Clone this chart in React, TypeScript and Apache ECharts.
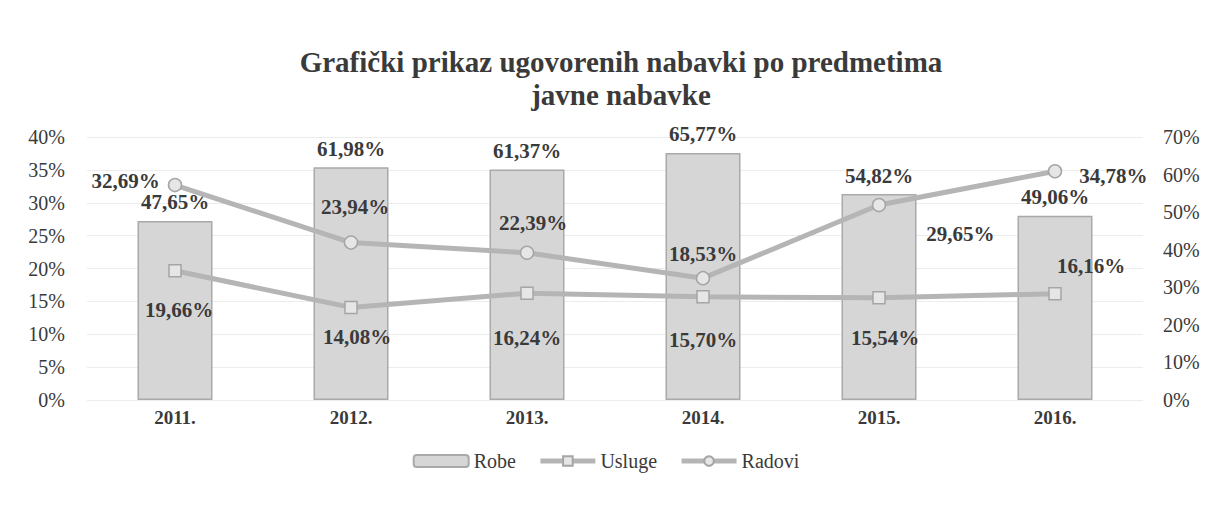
import React, { useEffect, useRef } from "react";
import * as echarts from "echarts";

const years = ["2011.", "2012.", "2013.", "2014.", "2015.", "2016."];
const robe = [47.65, 61.98, 61.37, 65.77, 54.82, 49.06];
const usluge = [19.66, 14.08, 16.24, 15.7, 15.54, 16.16];
const radovi = [32.69, 23.94, 22.39, 18.53, 29.65, 34.78];
const leftTicks = { min: 0, max: 40, interval: 5 };
const rightTicks = { min: 0, max: 70, interval: 10 };

// label placement styles (not data)
const uslugeLabelPos: any[] = [
  { position: "bottom", distance: 22, offset: [4, 0] },
  { position: "bottom", distance: 12, offset: [6, 0] },
  { position: "bottom", distance: 28, offset: [0, 0] },
  { position: "bottom", distance: 26, offset: [0, 0] },
  { position: "bottom", distance: 23, offset: [6, 0] },
  { position: "top", distance: 10, offset: [36, 0] },
];
const radoviLabelPos: any[] = [
  { position: "left", distance: 8, offset: [0, -4] },
  { position: "top", distance: 18, offset: [4, 0] },
  { position: "top", distance: 12, offset: [6, 0] },
  { position: "top", distance: 6, offset: [0, 0] },
  { position: "right", distance: 40, offset: [0, 29] },
  { position: "right", distance: 17, offset: [0, 5] },
];

const fmt = (v: number) => v.toFixed(2).replace(".", ",") + "%";
const FONT = "'Liberation Serif', 'DejaVu Serif', serif";
const TEXT = "#3a3a3a";

export default function App() {
  const ref = useRef<HTMLDivElement>(null);
  useEffect(() => {
    if (!ref.current) return;
    const chart = echarts.init(ref.current, undefined, { renderer: "svg" });
    const labelBase = {
      show: true,
      fontFamily: FONT,
      fontSize: 21,
      fontWeight: "bold",
      color: TEXT,
      formatter: (p: any) => fmt(p.value),
    };
    chart.setOption({
      animation: false,
      backgroundColor: "#ffffff",
      textStyle: { fontFamily: FONT },
      title: {
        text: "Grafički prikaz ugovorenih nabavki po predmetima\njavne nabavke",
        left: 616,
        top: 40,
        textAlign: "center",
        textStyle: {
          fontFamily: FONT,
          fontSize: 29,
          fontWeight: "bold",
          color: TEXT,
          lineHeight: 33,
        },
      },
      legend: {
        top: 446,
        left: "center",
        itemWidth: 55,
        itemHeight: 12,
        itemGap: 22,
        lineStyle: { width: 5, color: "#b5b5b5" },
        textStyle: { fontFamily: FONT, fontSize: 20, color: TEXT },
        data: ["Robe", "Usluge", "Radovi"],
      },
      grid: { left: 87, right: 69, top: 137, bottom: 117 },
      xAxis: {
        type: "category",
        data: years,
        axisLine: { show: false },
        axisTick: { show: false },
        axisLabel: {
          fontFamily: FONT,
          fontSize: 19,
          fontWeight: "bold",
          color: TEXT,
          margin: 8,
        },
      },
      yAxis: [
        {
          type: "value",
          ...leftTicks,
          position: "left",
          axisLabel: {
            formatter: "{value}%",
            fontFamily: FONT,
            fontSize: 20,
            color: TEXT,
            margin: 22,
          },
          axisLine: { show: false },
          axisTick: { show: false },
          splitLine: { lineStyle: { color: "#ececec", width: 1 } },
        },
        {
          type: "value",
          ...rightTicks,
          position: "right",
          axisLabel: {
            formatter: "{value}%",
            fontFamily: FONT,
            fontSize: 20,
            color: TEXT,
            margin: 20,
          },
          axisLine: { show: false },
          axisTick: { show: false },
          splitLine: { show: false },
        },
      ],
      series: [
        {
          name: "Robe",
          type: "bar",
          yAxisIndex: 1,
          barWidth: 75,
          itemStyle: { color: "#d6d6d6", borderColor: "#a9a9a9", borderWidth: 1.5 },
          label: { ...labelBase, position: "top", distance: 8 },
          data: robe,
          z: 1,
        },
        {
          name: "Usluge",
          type: "line",
          yAxisIndex: 0,
          symbol: "rect",
          symbolSize: 12,
          lineStyle: { color: "#b5b5b5", width: 5 },
          itemStyle: { color: "#e6e6e6", borderColor: "#a5a5a5", borderWidth: 1.5 },
          label: labelBase,
          data: usluge.map((v, i) => ({ value: v, label: uslugeLabelPos[i] })),
          z: 3,
        },
        {
          name: "Radovi",
          type: "line",
          yAxisIndex: 0,
          symbol: "circle",
          symbolSize: 13,
          lineStyle: { color: "#b5b5b5", width: 5 },
          itemStyle: { color: "#e6e6e6", borderColor: "#a5a5a5", borderWidth: 1.5 },
          label: labelBase,
          data: radovi.map((v, i) => ({ value: v, label: radoviLabelPos[i] })),
          z: 3,
        },
      ],
    });
    return () => chart.dispose();
  }, []);
  return (
    <div
      ref={ref}
      style={{ position: "fixed", left: 0, top: 0, width: 1212, height: 517, background: "#fff" }}
    />
  );
}
